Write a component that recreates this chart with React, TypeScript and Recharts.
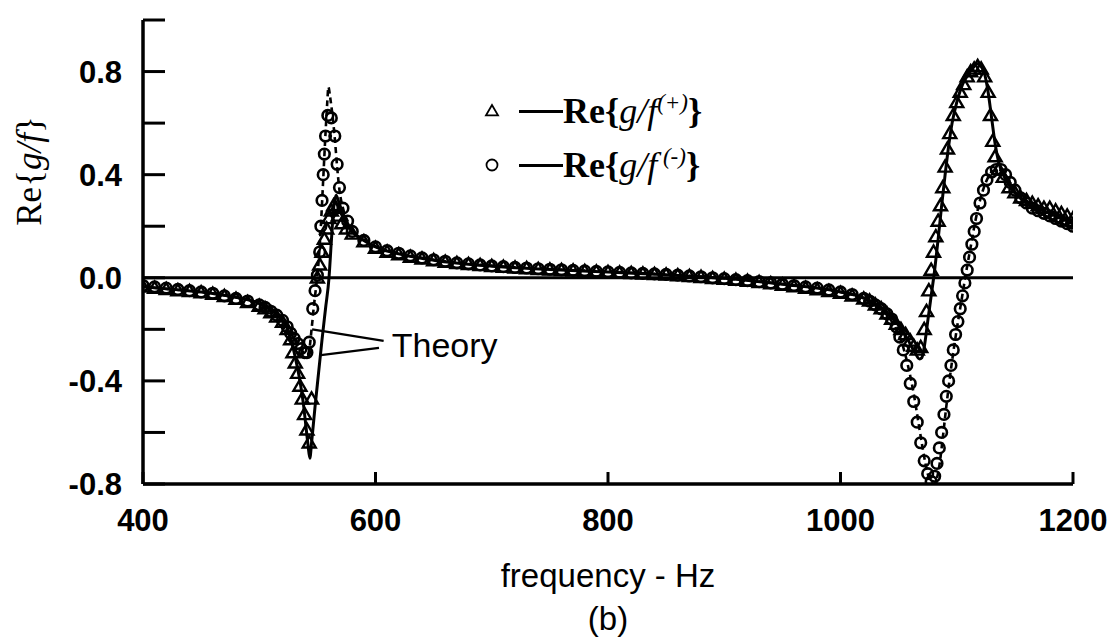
import React from 'react';
import {
  ComposedChart,
  Line,
  Scatter,
  XAxis,
  YAxis,
  ReferenceLine,
  ReferenceDot,
  Label,
  Legend,
} from 'recharts';

// ---------- tick values ----------
const xTicks = [400, 600, 800, 1000, 1200];
const yTicks = [-0.8, -0.6, -0.4, -0.2, 0, 0.2, 0.4, 0.6, 0.8, 1.0];
const yLabelled = [-0.8, -0.4, 0, 0.4, 0.8];

// ---------- measured Re{g/f(+)} (triangles) ----------
const plusData: [number, number][] = [
  [400, -0.035], [410, -0.04], [420, -0.045], [430, -0.05], [440, -0.053], [450, -0.058],
  [460, -0.063], [470, -0.072], [480, -0.083], [490, -0.095], [500, -0.11], [505, -0.12],
  [510, -0.135], [515, -0.152], [520, -0.172], [524, -0.2], [527, -0.24], [529, -0.29],
  [531, -0.33], [533, -0.37], [535, -0.42], [537, -0.47], [539, -0.53], [541, -0.59],
  [543, -0.64], [545, -0.47], [550, 0.0], [552, 0.05], [554, 0.1], [556, 0.15], [558, 0.19],
  [560, 0.23], [562, 0.26], [564, 0.28], [566, 0.27], [568, 0.24], [571, 0.21], [575, 0.19],
  [580, 0.17], [590, 0.14], [600, 0.115], [610, 0.1], [620, 0.09], [630, 0.08], [640, 0.073],
  [650, 0.067], [660, 0.061], [670, 0.056], [680, 0.052], [690, 0.048], [700, 0.044],
  [710, 0.041], [720, 0.038], [730, 0.036], [740, 0.033], [750, 0.031], [760, 0.029],
  [770, 0.027], [780, 0.025], [790, 0.023], [800, 0.021], [810, 0.019], [820, 0.017],
  [830, 0.015], [840, 0.013], [850, 0.011], [860, 0.008], [870, 0.005], [880, 0.002],
  [890, -0.002], [900, -0.005], [910, -0.009], [920, -0.013], [930, -0.018], [940, -0.023],
  [950, -0.028], [960, -0.034], [970, -0.04], [980, -0.046], [990, -0.053], [1000, -0.06],
  [1010, -0.07], [1020, -0.082], [1025, -0.09], [1030, -0.105], [1035, -0.12], [1040, -0.14],
  [1044, -0.16], [1048, -0.18], [1052, -0.2], [1056, -0.22], [1060, -0.245], [1063, -0.265],
  [1066, -0.28], [1069, -0.27], [1072, -0.2], [1074, -0.13], [1076, -0.05], [1078, 0.03],
  [1080, 0.1], [1082, 0.16], [1084, 0.22], [1086, 0.28], [1088, 0.35], [1090, 0.43],
  [1092, 0.5], [1094, 0.56], [1097, 0.63], [1100, 0.68], [1103, 0.72], [1106, 0.75],
  [1109, 0.78], [1112, 0.8], [1115, 0.81], [1118, 0.82], [1121, 0.81], [1124, 0.78],
  [1127, 0.72], [1129, 0.63], [1131, 0.53], [1133, 0.47], [1136, 0.42], [1140, 0.39],
  [1145, 0.35], [1150, 0.33], [1155, 0.31], [1160, 0.3], [1165, 0.29], [1170, 0.28],
  [1175, 0.27], [1180, 0.27], [1185, 0.26], [1190, 0.25], [1195, 0.24], [1200, 0.23],
];

// ---------- measured Re{g/f(-)} (circles) ----------
const minusData: [number, number][] = [
  [400, -0.03], [410, -0.035], [420, -0.04], [430, -0.045], [440, -0.05], [450, -0.055],
  [460, -0.06], [470, -0.07], [480, -0.08], [490, -0.09], [500, -0.105], [505, -0.115],
  [510, -0.13], [515, -0.145], [520, -0.165], [524, -0.19], [527, -0.215], [530, -0.235],
  [533, -0.255], [536, -0.275], [539, -0.29], [541, -0.29], [543, -0.25], [546, -0.12],
  [548, -0.05], [550, 0.01], [552, 0.1], [553, 0.2], [554, 0.3], [555, 0.4], [556, 0.48],
  [557, 0.55], [559, 0.63], [562, 0.62], [565, 0.55], [567, 0.44], [569, 0.35], [572, 0.27],
  [576, 0.22], [580, 0.18], [590, 0.145], [600, 0.12], [610, 0.105], [620, 0.095],
  [630, 0.085], [640, 0.077], [650, 0.07], [660, 0.064], [670, 0.058], [680, 0.054],
  [690, 0.05], [700, 0.046], [710, 0.043], [720, 0.04], [730, 0.038], [740, 0.035],
  [750, 0.033], [760, 0.031], [770, 0.029], [780, 0.027], [790, 0.025], [800, 0.023],
  [810, 0.021], [820, 0.019], [830, 0.017], [840, 0.015], [850, 0.013], [860, 0.01],
  [870, 0.007], [880, 0.004], [890, 0.0], [900, -0.003], [910, -0.007], [920, -0.011],
  [930, -0.015], [940, -0.02], [950, -0.025], [960, -0.03], [970, -0.035], [980, -0.04],
  [990, -0.047], [1000, -0.055], [1010, -0.065], [1020, -0.08], [1025, -0.09],
  [1030, -0.105], [1035, -0.12], [1040, -0.14], [1044, -0.16], [1048, -0.19], [1051, -0.23],
  [1054, -0.28], [1057, -0.34], [1060, -0.41], [1063, -0.48], [1066, -0.56], [1069, -0.64],
  [1072, -0.71], [1075, -0.76], [1078, -0.79], [1081, -0.77], [1083, -0.72], [1085, -0.66],
  [1087, -0.6], [1089, -0.53], [1091, -0.46], [1093, -0.4], [1095, -0.34], [1097, -0.28],
  [1099, -0.22], [1101, -0.17], [1103, -0.12], [1105, -0.07], [1107, -0.02], [1109, 0.03],
  [1111, 0.08], [1113, 0.13], [1115, 0.18], [1117, 0.23], [1120, 0.29], [1123, 0.34],
  [1126, 0.38], [1130, 0.41], [1134, 0.42], [1138, 0.42], [1142, 0.4], [1146, 0.37],
  [1150, 0.34], [1155, 0.31], [1160, 0.29], [1165, 0.27], [1170, 0.26], [1175, 0.25],
  [1180, 0.24], [1185, 0.23], [1190, 0.22], [1195, 0.21], [1200, 0.2],
];

// ---------- theory (+), solid ----------
const theoryPlus: [number, number][] = [
  [400, -0.035], [425, -0.045], [450, -0.055], [475, -0.072], [500, -0.1], [510, -0.125],
  [518, -0.155], [524, -0.195], [529, -0.27], [532, -0.33], [535, -0.4], [538, -0.49],
  [540, -0.57], [542, -0.65], [543.5, -0.7], [545, -0.64], [548, -0.5], [551, -0.37],
  [554, -0.24], [557, -0.12], [560, 0.0], [562, 0.14], [564, 0.27], [566, 0.32], [568, 0.3],
  [571, 0.26], [575, 0.22], [580, 0.18], [590, 0.145], [600, 0.12], [625, 0.088],
  [650, 0.068], [700, 0.045], [750, 0.032], [800, 0.022], [850, 0.012], [900, -0.002],
  [950, -0.025], [1000, -0.055], [1020, -0.078], [1030, -0.1], [1040, -0.135], [1050, -0.185],
  [1058, -0.24], [1064, -0.29], [1068, -0.315], [1070, -0.31], [1072, -0.27], [1075, -0.17],
  [1078, -0.07], [1081, 0.03], [1084, 0.15], [1087, 0.28], [1090, 0.4], [1093, 0.51],
  [1096, 0.6], [1100, 0.68], [1105, 0.75], [1110, 0.79], [1115, 0.82], [1118, 0.83],
  [1121, 0.82], [1124, 0.79], [1127, 0.72], [1130, 0.62], [1133, 0.52], [1136, 0.45],
  [1140, 0.4], [1145, 0.36], [1150, 0.33], [1160, 0.29], [1170, 0.26], [1180, 0.23],
  [1190, 0.21], [1200, 0.19],
];

// ---------- theory (-), dashed ----------
const theoryMinus: [number, number][] = [
  [400, -0.035], [425, -0.045], [450, -0.055], [475, -0.072], [500, -0.1], [510, -0.125],
  [520, -0.16], [528, -0.21], [534, -0.26], [538, -0.29], [541, -0.3], [543, -0.28],
  [545, -0.2], [547, -0.11], [549, -0.03], [551, 0.06], [553, 0.2], [555, 0.38], [557, 0.56],
  [558.5, 0.68], [559.5, 0.74], [561, 0.7], [563, 0.63], [565, 0.54], [567, 0.43],
  [569, 0.34], [572, 0.27], [576, 0.22], [580, 0.185], [590, 0.148], [600, 0.122],
  [625, 0.09], [650, 0.07], [700, 0.047], [750, 0.034], [800, 0.024], [850, 0.013],
  [900, -0.002], [950, -0.024], [1000, -0.055], [1020, -0.08], [1030, -0.105],
  [1040, -0.145], [1048, -0.2], [1054, -0.27], [1059, -0.36], [1063, -0.45], [1067, -0.56],
  [1071, -0.67], [1075, -0.76], [1078, -0.795], [1080, -0.8], [1082, -0.79], [1085, -0.73],
  [1088, -0.62], [1091, -0.5], [1094, -0.39], [1097, -0.29], [1100, -0.2], [1104, -0.09],
  [1108, 0.02], [1112, 0.12], [1116, 0.22], [1120, 0.3], [1125, 0.37], [1130, 0.41],
  [1135, 0.42], [1140, 0.41], [1145, 0.38], [1150, 0.35], [1160, 0.3], [1170, 0.26],
  [1180, 0.23], [1190, 0.21], [1200, 0.2],
];

// ---------- "Theory" annotation (data coordinates) ----------
const theoryLabelPos = { x: 614, y: -0.262 };
const theoryPointerDashed = [{ x: 545.5, y: -0.2 }, { x: 607, y: -0.245 }];
const theoryPointerSolid = [{ x: 553, y: -0.3 }, { x: 603, y: -0.272 }];

const toPts = (arr: [number, number][]) => arr.map(([x, y]) => ({ x, y }));

const SANS = '"Liberation Sans", Arial, Helvetica, sans-serif';
const SERIF = '"Liberation Serif", "Times New Roman", serif';

const TriangleShape = (props: any) => {
  const { cx, cy } = props;
  if (cx == null || cy == null) return null;
  const s = 6.5;
  return (
    <polygon
      points={`${cx},${cy - s} ${cx - s},${cy + s * 0.72} ${cx + s},${cy + s * 0.72}`}
      fill="none"
      stroke="#000"
      strokeWidth={2.4}
    />
  );
};

const CircleShape = (props: any) => {
  const { cx, cy } = props;
  if (cx == null || cy == null) return null;
  return <circle cx={cx} cy={cy} r={5.3} fill="none" stroke="#000" strokeWidth={2.6} />;
};

const XTick = (props: any) => {
  const { x, y, payload } = props;
  return (
    <g>
      <line x1={x} y1={y} x2={x} y2={y - 12} stroke="#000" strokeWidth={3} />
      <text
        x={x}
        y={y + 47}
        textAnchor="middle"
        fontFamily={SANS}
        fontWeight="bold"
        fontSize={31}
        fill="#000"
      >
        {payload.value}
      </text>
    </g>
  );
};

const YTick = (props: any) => {
  const { x, y, payload } = props;
  const v = payload.value as number;
  const show = yLabelled.some((t) => Math.abs(t - v) < 1e-9);
  return (
    <g>
      <line x1={x} y1={y} x2={x + 22} y2={y} stroke="#000" strokeWidth={3} />
      {show && (
        <text
          x={x - 21}
          y={y + 11}
          textAnchor="end"
          fontFamily={SANS}
          fontWeight="bold"
          fontSize={31}
          fill="#000"
        >
          {v.toFixed(1)}
        </text>
      )}
    </g>
  );
};

const YTitle = (props: any) => {
  const vb = props.viewBox || { x: 0, y: 0 };
  const cx = vb.x + 6;
  const cy = vb.y + 151;
  return (
    <text
      x={cx}
      y={cy}
      transform={`rotate(-90, ${cx}, ${cy})`}
      textAnchor="middle"
      dominantBaseline="central"
      fontFamily={SERIF}
      fontSize={35}
      fill="#000"
    >
      <tspan>Re{'{'}</tspan>
      <tspan fontStyle="italic">g/f</tspan>
      <tspan>{'}'}</tspan>
    </text>
  );
};

const XTitle = (props: any) => {
  const vb = props.viewBox || { x: 0, y: 0, width: 0 };
  const cx = vb.x + vb.width / 2;
  return (
    <g>
      <text x={cx} y={vb.y + 103} textAnchor="middle" fontFamily={SANS} fontSize={33} fill="#000">
        frequency - Hz
      </text>
      <text x={cx} y={vb.y + 146} textAnchor="middle" fontFamily={SANS} fontSize={33} fill="#000">
        (b)
      </text>
    </g>
  );
};

const TheoryText = (props: any) => {
  const vb = props.viewBox || { x: 0, y: 0 };
  return (
    <text
      x={vb.x}
      y={vb.y}
      dominantBaseline="central"
      fontFamily={SANS}
      fontSize={34}
      fill="#000"
    >
      Theory
    </text>
  );
};

const LegendContent = () => {
  const row: React.CSSProperties = { display: 'flex', alignItems: 'center', height: 54 };
  const dash: React.CSSProperties = {
    display: 'inline-block',
    width: 44,
    height: 0,
    borderTop: '3px solid #000',
    marginLeft: 17,
    marginRight: 0,
  };
  return (
    <div style={{ fontFamily: SERIF, fontSize: 36, color: '#000', whiteSpace: 'nowrap' }}>
      <div style={row}>
        <svg width={20} height={20} style={{ display: 'block' }}>
          <polygon points="10,4 4,14.3 16,14.3" fill="none" stroke="#000" strokeWidth={1.8} />
        </svg>
        <span style={dash} />
        <span>
          <b>Re{'{'}</b>
          <i>g/f</i>
          <sup style={{ fontSize: 23, fontStyle: 'italic' }}>{'(+)'}</sup>
          <b>{'}'}</b>
        </span>
      </div>
      <div style={row}>
        <svg width={20} height={20} style={{ display: 'block' }}>
          <circle cx={10} cy={10} r={5.5} fill="none" stroke="#000" strokeWidth={1.8} />
        </svg>
        <span style={dash} />
        <span>
          <b>Re{'{'}</b>
          <i>g/f</i>
          <sup style={{ fontSize: 23, fontStyle: 'italic' }}>{' (-)'}</sup>
          <b>{'}'}</b>
        </span>
      </div>
    </div>
  );
};

export default function App() {
  return (
    <div style={{ position: 'absolute', left: 0, top: 0, width: 1114, height: 644, background: '#fff' }}>
      <ComposedChart
        width={1114}
        height={644}
        margin={{ top: 20, right: 41, bottom: 100, left: 23 }}
      >
        <XAxis
          type="number"
          dataKey="x"
          domain={[400, 1200]}
          ticks={xTicks}
          allowDataOverflow
          axisLine={{ stroke: '#000', strokeWidth: 3.5 }}
          tickLine={false}
          tickSize={0}
          tickMargin={0}
          tick={<XTick />}
          height={60}
          interval={0}
        >
          <Label content={<XTitle />} />
        </XAxis>
        <YAxis
          type="number"
          dataKey="y"
          domain={[-0.8, 1.0]}
          ticks={yTicks}
          allowDataOverflow
          axisLine={{ stroke: '#000', strokeWidth: 3.5 }}
          tickLine={false}
          tickSize={0}
          tickMargin={0}
          tick={<YTick />}
          width={120}
          interval={0}
        >
          <Label content={<YTitle />} />
        </YAxis>
        <Legend
          verticalAlign="middle"
          align="center"
          layout="horizontal"
          content={<LegendContent />}
          wrapperStyle={{ left: 482, top: 84, width: 300, height: 108 }}
        />
        <ReferenceLine y={0} stroke="#000" strokeWidth={3} />
        <ReferenceLine
          segment={theoryPointerDashed}
          stroke="#000"
          strokeWidth={2.2}
          ifOverflow="visible"
        />
        <ReferenceLine
          segment={theoryPointerSolid}
          stroke="#000"
          strokeWidth={2.2}
          ifOverflow="visible"
        />
        <ReferenceDot
          x={theoryLabelPos.x}
          y={theoryLabelPos.y}
          r={0}
          fill="none"
          stroke="none"
          ifOverflow="visible"
          label={<TheoryText />}
        />
        <Line
          data={toPts(theoryPlus)}
          dataKey="y"
          type="monotone"
          stroke="#000"
          strokeWidth={3}
          dot={false}
          activeDot={false}
          isAnimationActive={false}
          legendType="none"
        />
        <Line
          data={toPts(theoryMinus)}
          dataKey="y"
          type="monotone"
          stroke="#000"
          strokeWidth={2.6}
          strokeDasharray="6 4"
          dot={false}
          activeDot={false}
          isAnimationActive={false}
          legendType="none"
        />
        <Scatter
          data={toPts(plusData)}
          dataKey="y"
          shape={<TriangleShape />}
          isAnimationActive={false}
          legendType="triangle"
          name="plus"
        />
        <Scatter
          data={toPts(minusData)}
          dataKey="y"
          shape={<CircleShape />}
          isAnimationActive={false}
          legendType="circle"
          name="minus"
        />
      </ComposedChart>
    </div>
  );
}
